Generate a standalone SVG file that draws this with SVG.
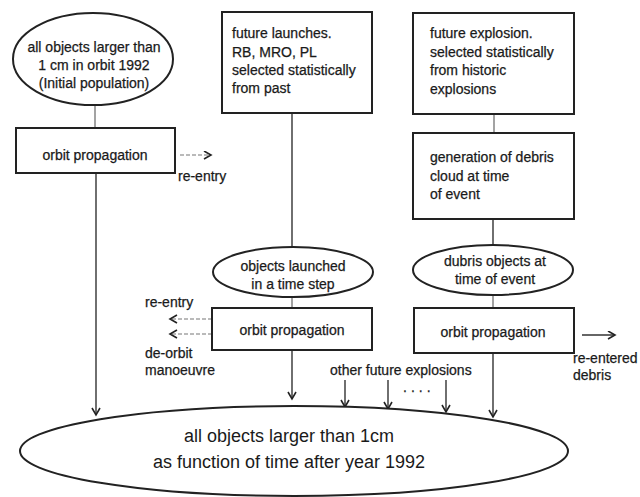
<svg xmlns="http://www.w3.org/2000/svg" width="640" height="497" viewBox="0 0 640 497">
<defs>
<marker id="arr" markerUnits="userSpaceOnUse" markerWidth="12" markerHeight="12" refX="8" refY="4.5" orient="auto">
<path d="M1,0.5 L8,4.5 L1,8.5" fill="none" stroke="#222" stroke-width="1.6"/>
</marker>
</defs>
<style>
.box{fill:#fff;stroke:#222;stroke-width:2}
.ell{fill:#fff;stroke:#222;stroke-width:2}
.t{font-family:"Liberation Sans",Arial,sans-serif;font-size:14px;fill:#1a1a1a;stroke:#1a1a1a;stroke-width:0.25}
.tm{text-anchor:middle}
.big{font-size:18px;stroke-width:0}
.ln{stroke:#333;stroke-width:1.4;fill:none}
.lg{stroke:#666;stroke-width:1.2;fill:none}
.dash{stroke:#777;stroke-width:1.2;stroke-dasharray:4,2;fill:none}
</style>
<rect width="640" height="497" fill="#fff"/>
<g id="connectors">
<line class="lg" x1="95" y1="105" x2="95" y2="128"/>
<line class="ln" x1="96" y1="173" x2="96" y2="415" marker-end="url(#arr)"/>
<line class="dash" x1="180" y1="155" x2="211" y2="155" marker-end="url(#arr)"/>
<line class="ln" x1="292" y1="113" x2="292" y2="247"/>
<line class="lg" x1="292" y1="297" x2="292" y2="308"/>
<line class="dash" x1="212" y1="319" x2="170" y2="319" marker-end="url(#arr)"/>
<line class="dash" x1="212" y1="334" x2="170" y2="334" marker-end="url(#arr)"/>
<line class="ln" x1="292" y1="350" x2="292" y2="399" marker-end="url(#arr)"/>
<line class="lg" x1="494" y1="114" x2="494" y2="133"/>
<line class="ln" x1="493" y1="219" x2="493" y2="245"/>
<line class="lg" x1="493" y1="295" x2="493" y2="308"/>
<line class="ln" x1="493" y1="353" x2="493" y2="417" marker-end="url(#arr)"/>
<line class="ln" x1="582" y1="335" x2="615" y2="335" marker-end="url(#arr)"/>
<line class="ln" x1="345" y1="380" x2="345" y2="407" marker-end="url(#arr)"/>
<line class="ln" x1="388" y1="380" x2="388" y2="409" marker-end="url(#arr)"/>
<line class="ln" x1="446" y1="380" x2="446" y2="412" marker-end="url(#arr)"/>
</g>
<g id="initial">
<ellipse class="ell" cx="93" cy="59" rx="80" ry="46"/>
<text class="t tm" x="94" y="52">all objects larger than</text>
<text class="t tm" x="94" y="70">1 cm in orbit 1992</text>
<text class="t tm" x="94" y="88">(Initial population)</text>
</g>
<g id="orbit1">
<rect class="box" x="16" y="128" width="159" height="45"/>
<text class="t tm" x="95" y="160">orbit propagation</text>
</g>
<g id="reentry1"><text class="t" x="178" y="181">re-entry</text></g>
<g id="launches">
<rect class="box" x="222" y="12" width="150" height="101"/>
<text class="t" x="232" y="38">future launches.</text>
<text class="t" x="232" y="57">RB, MRO, PL</text>
<text class="t" x="232" y="75">selected statistically</text>
<text class="t" x="232" y="93">from past</text>
</g>
<g id="launched">
<ellipse class="ell" cx="293" cy="272" rx="80" ry="25"/>
<text class="t tm" x="293" y="271">objects launched</text>
<text class="t tm" x="293" y="289">in a time step</text>
</g>
<g id="orbit2">
<rect class="box" x="212" y="308" width="160" height="42"/>
<text class="t tm" x="292" y="335">orbit propagation</text>
</g>
<g id="reentry2"><text class="t" x="145" y="307">re-entry</text></g>
<g id="deorbit">
<text class="t" x="145" y="358">de-orbit</text>
<text class="t" x="145" y="375">manoeuvre</text>
</g>
<g id="explosion">
<rect class="box" x="413" y="13" width="161" height="101"/>
<text class="t" x="430" y="38">future explosion.</text>
<text class="t" x="430" y="57">selected statistically</text>
<text class="t" x="430" y="75">from historic</text>
<text class="t" x="430" y="94">explosions</text>
</g>
<g id="generation">
<rect class="box" x="413" y="133" width="161" height="86"/>
<text class="t" x="430" y="162">generation of debris</text>
<text class="t" x="430" y="181">cloud at time</text>
<text class="t" x="430" y="199">of event</text>
</g>
<g id="debris">
<ellipse class="ell" cx="493" cy="270" rx="80" ry="25"/>
<text class="t tm" x="495" y="266">dubris objects at</text>
<text class="t tm" x="495" y="284">time of event</text>
</g>
<g id="orbit3">
<rect class="box" x="414" y="308" width="160" height="45"/>
<text class="t tm" x="493" y="337">orbit propagation</text>
</g>
<g id="reentered">
<text class="t" x="573" y="363">re-entered</text>
<text class="t" x="573" y="380">debris</text>
</g>
<g id="other">
<text class="t" x="330" y="375">other future explosions</text>
<text class="t" x="403" y="392" letter-spacing="4">....</text>
</g>
<g id="all">
<ellipse class="ell" cx="294" cy="451" rx="274" ry="45"/>
<text class="t tm big" x="289" y="442">all objects larger than 1cm</text>
<text class="t tm big" x="289" y="468">as function of time after year 1992</text>
</g>
</svg>
